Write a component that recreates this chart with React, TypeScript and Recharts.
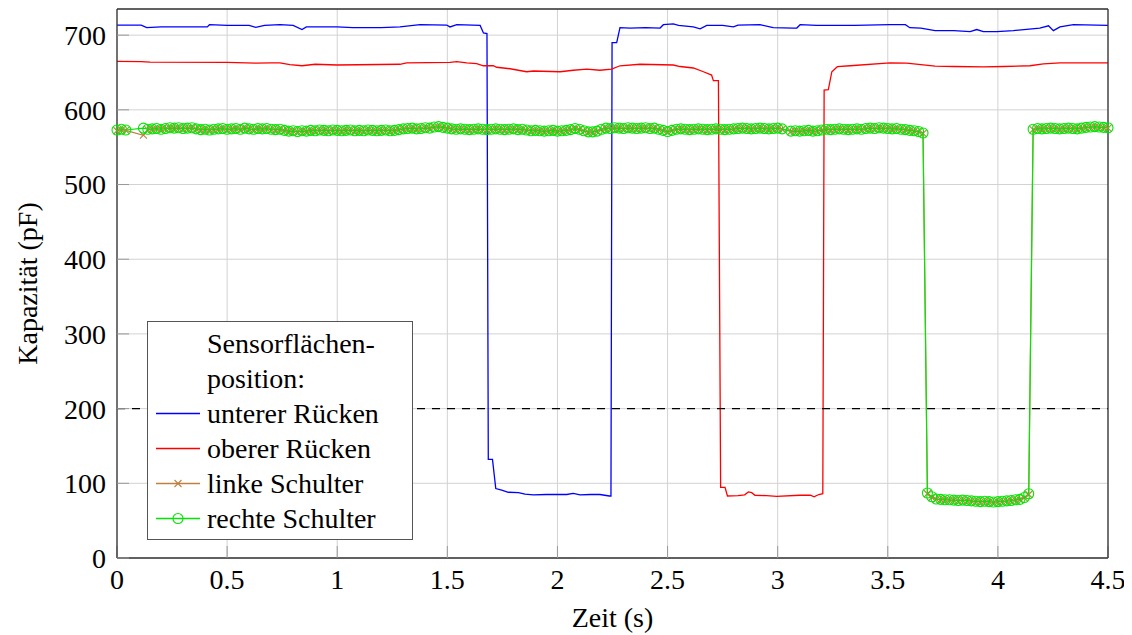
import { LineChart, Line, XAxis, YAxis, CartesianGrid, ReferenceLine, Legend } from 'recharts';

const FONT = '"Liberation Serif", "DejaVu Serif", serif';
const FONT_SIZE = 28;
const BLUE = '#0000ff';
const RED = '#ff0000';
const BROWN = '#bf8040';
const GREEN = '#00e600';

const xTicks = [0, 0.5, 1, 1.5, 2, 2.5, 3, 3.5, 4, 4.5];
const yTicks = [0, 100, 200, 300, 400, 500, 600, 700];
const threshold = 200;

// unterer Rücken
const lowerBackTime = [
  0, 0.11, 0.135, 0.2, 0.3, 0.41, 0.42, 0.5, 0.6, 0.63, 0.67, 0.74, 0.8, 0.84, 0.86, 1.0, 1.07, 1.2, 1.285, 1.376,
  1.497, 1.512, 1.543, 1.649, 1.664, 1.68, 1.686, 1.705, 1.72, 1.747, 1.777, 1.823, 1.853, 1.891, 1.95, 2.0, 2.042,
  2.072, 2.103, 2.15, 2.193, 2.236, 2.243, 2.248, 2.269, 2.284, 2.33, 2.4, 2.466, 2.481, 2.526, 2.55, 2.617, 2.648,
  2.678, 2.75, 2.799, 2.82, 2.92, 2.98, 3.07, 3.087, 3.102, 3.177, 3.35, 3.51, 3.58, 3.6, 3.65, 3.715, 3.8, 3.874,
  3.904, 3.934, 3.995, 4.07, 4.19, 4.23, 4.252, 4.282, 4.343, 4.5,
];
const lowerBackValue = [
  713.5, 713.5, 710, 711, 711, 711, 714, 713, 713, 710.5, 713, 714, 713, 707.5, 711, 711, 710, 710, 711, 714,
  713.5, 711, 714, 713, 703, 702, 132, 132, 93, 91, 88, 87.5, 85.5, 84.5, 85, 85, 85,
  86.5, 84.5, 85, 85, 83, 83, 690, 690, 710, 709.5, 710, 709.5, 714, 715, 713, 711, 708.5,
  713, 713, 711, 713.5, 714, 710, 709.5, 709.5, 714, 713, 713, 714, 714, 710, 709.5, 706, 706, 704.7,
  707.5, 704.7, 704.7, 706, 709.5, 712.5, 706, 711, 714, 713,
];

// oberer Rücken
const upperBackTime = [
  0, 0.11, 0.15, 0.5, 0.63, 0.7, 0.74, 0.785, 0.84, 0.9, 1.0, 1.285, 1.315, 1.512, 1.543, 1.588, 1.633, 1.664,
  1.709, 1.724, 1.785, 1.86, 1.891, 2.012, 2.072, 2.133, 2.193, 2.246, 2.284, 2.375, 2.526, 2.557, 2.617, 2.663,
  2.7, 2.708, 2.731, 2.741, 2.761, 2.772, 2.82, 2.85, 2.867, 2.882, 2.897, 2.95, 2.996, 3.1, 3.149, 3.165, 3.187,
  3.205, 3.211, 3.23, 3.246, 3.271, 3.329, 3.51, 3.586, 3.715, 3.8, 3.934, 4.025, 4.146, 4.207, 4.282, 4.5,
];
const upperBackValue = [
  665, 664.5, 664, 663.5, 662.5, 663, 663, 660.5, 659, 661, 660, 661, 663, 663.5, 664.5, 663, 662, 659,
  659, 657, 655, 651, 652, 651, 653, 654.5, 653, 654.5, 659, 661, 660, 658, 656, 651,
  646.5, 639, 639, 94.6, 94.6, 83, 83.5, 84.5, 88.4, 87.5, 84, 83.5, 82.6, 84, 84, 82, 85,
  86, 626.5, 627, 651, 657.8, 659, 663, 662.5, 658.5, 658, 657.5, 658, 659, 661.5, 663, 663,
];

// shared sample times of both shoulder sensors
const shoulderTime = [
  0, 0.02, 0.04,
  0.12, 0.14, 0.16, 0.18, 0.2, 0.22, 0.24, 0.26, 0.28, 0.3,
  0.32, 0.34, 0.36, 0.38, 0.4, 0.42, 0.44, 0.46, 0.48, 0.5,
  0.52, 0.54, 0.56, 0.58, 0.6, 0.62, 0.64, 0.66, 0.68, 0.7,
  0.72, 0.74, 0.76, 0.78, 0.8, 0.82, 0.84, 0.86, 0.88, 0.9,
  0.92, 0.94, 0.96, 0.98, 1.0, 1.02, 1.04, 1.06, 1.08, 1.1,
  1.12, 1.14, 1.16, 1.18, 1.2, 1.22, 1.24, 1.26, 1.28, 1.3,
  1.32, 1.34, 1.36, 1.38, 1.4, 1.42, 1.44, 1.46, 1.48, 1.5,
  1.52, 1.54, 1.56, 1.58, 1.6, 1.62, 1.64, 1.66, 1.68, 1.7,
  1.72, 1.74, 1.76, 1.78, 1.8, 1.82, 1.84, 1.86, 1.88, 1.9,
  1.92, 1.94, 1.96, 1.98, 2.0, 2.02, 2.04, 2.06, 2.08, 2.1,
  2.12, 2.14, 2.16, 2.18, 2.2, 2.22, 2.24, 2.26, 2.28, 2.3,
  2.32, 2.34, 2.36, 2.38, 2.4, 2.42, 2.44, 2.46, 2.48, 2.5,
  2.52, 2.54, 2.56, 2.58, 2.6, 2.62, 2.64, 2.66, 2.68, 2.7,
  2.72, 2.74, 2.76, 2.78, 2.8, 2.82, 2.84, 2.86, 2.88, 2.9,
  2.92, 2.94, 2.96, 2.98, 3.0, 3.02, 3.06, 3.08, 3.1,
  3.12, 3.14, 3.16, 3.18, 3.2, 3.22, 3.24, 3.26, 3.28, 3.3,
  3.32, 3.34, 3.36, 3.38, 3.4, 3.42, 3.44, 3.46, 3.48, 3.5,
  3.52, 3.54, 3.56, 3.58, 3.6, 3.62, 3.64, 3.66,
  3.68, 3.7, 3.72, 3.74, 3.76, 3.78, 3.8, 3.82, 3.84, 3.86, 3.88, 3.9,
  3.92, 3.94, 3.96, 3.98, 4.0, 4.02, 4.04, 4.06, 4.08, 4.1, 4.12, 4.14,
  4.16, 4.18, 4.2, 4.22, 4.24, 4.26, 4.28, 4.3, 4.32, 4.34, 4.36, 4.38,
  4.4, 4.42, 4.44, 4.46, 4.48, 4.5,
];

// linke Schulter
const leftShoulderValue = [
  572, 573, 572.5,
  566, 573.5, 574, 574.5, 574, 574.5, 575.5, 575, 575.5, 574.5,
  575, 575.5, 574, 573, 573.5, 573, 573.5, 574, 574.5, 573.5,
  574, 574.5, 573.5, 575, 574, 573.5, 574.5, 574, 574.5, 573.5,
  573, 573.5, 572, 571, 571.5, 570.5, 571.5, 571, 572, 571.5,
  572.5, 572, 571.5, 572.5, 572, 571.5, 572, 572.5, 571.5, 572,
  571.5, 572.5, 572, 571.5, 572, 572.5, 571.5, 572, 573, 574,
  574.5, 575, 574, 574.5, 575.5, 575, 576.5, 577, 576, 575,
  574, 573.5, 574, 573.5, 573, 573.5, 574, 573.5, 573, 573.5,
  574, 573.5, 573, 573.5, 574, 573, 573.5, 572.5, 571.5, 572,
  571.5, 571, 571.5, 572, 571, 571.5, 572, 573, 574.5, 573.5,
  571.5, 570, 570, 571, 573.5, 575, 574.5, 575.5, 575, 574.5,
  575.5, 575, 574.5, 575, 575.5, 574.5, 575, 573.5, 572, 570.5,
  572, 573.5, 574, 573.5, 573, 573.5, 574, 573.5, 573, 573.5,
  574, 573.5, 573, 573.5, 574, 574.5, 575, 574.5, 574, 574.5,
  575, 574.5, 574, 574.5, 575, 574, 571, 571.5, 571,
  571.5, 572, 571, 571.5, 572.5, 573.5, 573, 573.5, 574, 573.5,
  573, 573.5, 574, 573.5, 574.5, 575, 574.5, 575.5, 575, 574.5,
  574, 574.5, 573.5, 573, 572, 571.5, 570.5, 568.5,
  86, 81, 78.5, 78, 77.5, 77.5, 77, 76.5, 77, 76.5, 76, 75.5,
  75, 75.5, 75, 74.5, 75, 75.5, 76, 76.5, 77.5, 78, 80.5, 85,
  573.5, 574.5, 574, 574.5, 575, 574.5, 574, 574.5, 575, 574.5, 574, 575,
  576, 576.5, 577, 576.5, 576, 575.5,
];

// rechte Schulter
const rightShoulderValue = [
  573, 574, 573,
  575.5, 574, 574.5, 575, 574, 575, 576, 575.5, 576, 575,
  575.5, 576, 574.5, 573.5, 574, 573, 574, 574.5, 575, 574,
  574.5, 575, 574, 575.5, 574.5, 574, 575, 574.5, 575, 574,
  573.5, 574, 572.5, 571.5, 572, 571, 572, 571.5, 572.5, 572,
  573, 572.5, 572, 573, 572.5, 572, 572.5, 573, 572, 572.5,
  572, 573, 572.5, 572, 572.5, 573, 572, 572.5, 573.5, 574.5,
  575, 575.5, 574.5, 575, 576, 575.5, 577, 577.5, 576.5, 575.5,
  574.5, 574, 574.5, 574, 573.5, 574, 574.5, 574, 573.5, 574,
  574.5, 574, 573.5, 574, 574.5, 573.5, 574, 573, 572, 572.5,
  572, 571.5, 572, 572.5, 571.5, 572, 572.5, 573.5, 575, 574,
  572, 570.5, 570.5, 571.5, 574, 575.5, 575, 576, 575.5, 575,
  576, 575.5, 575, 575.5, 576, 575, 575.5, 574, 572.5, 571,
  572.5, 574, 574.5, 574, 573.5, 574, 574.5, 574, 573.5, 574,
  574.5, 574, 573.5, 574, 574.5, 575, 575.5, 575, 574.5, 575,
  575.5, 575, 574.5, 575, 575.5, 574.5, 571.5, 572, 571.5,
  572, 572.5, 571.5, 572, 573, 574, 573.5, 574, 574.5, 574,
  573.5, 574, 574.5, 574, 575, 575.5, 575, 576, 575.5, 575,
  574.5, 575, 574, 573.5, 572.5, 572, 571, 569,
  87, 82, 79, 78.5, 78, 78, 77.5, 77, 77.5, 77, 76.5, 76,
  75.5, 76, 75.5, 75, 75.5, 76, 76.5, 77, 78, 78.5, 81, 86,
  574, 575, 574.5, 575, 575.5, 575, 574.5, 575, 575.5, 575, 574.5, 575.5,
  576.5, 577, 577.5, 577, 576.5, 576,
];

const zip = (t: number[], v: number[]) => t.map((x, i) => ({ t: x, v: v[i] }));

const lowerBack = zip(lowerBackTime, lowerBackValue);
const upperBack = zip(upperBackTime, upperBackValue);
const leftShoulder = zip(shoulderTime, leftShoulderValue);
const rightShoulder = zip(shoulderTime, rightShoulderValue);

const SERIES = [
  { key: 'lower', name: 'unterer Rücken', color: BLUE, mark: 'none' },
  { key: 'upper', name: 'oberer Rücken', color: RED, mark: 'none' },
  { key: 'left', name: 'linke Schulter', color: BROWN, mark: 'x' },
  { key: 'right', name: 'rechte Schulter', color: GREEN, mark: 'o' },
];

const XMark = ({ cx, cy }: any) => {
  const s = 3.5;
  return (
    <path
      d={`M${cx - s},${cy - s}L${cx + s},${cy + s}M${cx - s},${cy + s}L${cx + s},${cy - s}`}
      stroke={BROWN}
      strokeWidth={1.1}
      fill="none"
    />
  );
};

const YTitle = ({ viewBox }: any) => {
  const x = viewBox.x + 29;
  const y = viewBox.y + viewBox.height / 2;
  return (
    <text x={x} y={y} transform={`rotate(-90 ${x} ${y})`} textAnchor="middle" fontFamily={FONT} fontSize={FONT_SIZE} fill="#000">
      Kapazität (pF)
    </text>
  );
};

const XTitle = ({ viewBox }: any) => (
  <text x={viewBox.x + viewBox.width / 2} y={viewBox.y + 69} textAnchor="middle" fontFamily={FONT} fontSize={FONT_SIZE} fill="#000">
    Zeit (s)
  </text>
);

const renderLegend = () => (
  <div
    style={{
      boxSizing: 'border-box',
      width: 266,
      height: 219,
      paddingTop: 4,
      background: '#fff',
      border: '1px solid #555',
      fontFamily: FONT,
      fontSize: FONT_SIZE,
      lineHeight: '35px',
      color: '#000',
    }}
  >
    <div style={{ paddingLeft: 59 }}>Sensorflächen-</div>
    <div style={{ paddingLeft: 59 }}>position:</div>
    {SERIES.map((s) => (
      <div key={s.key} style={{ display: 'flex', alignItems: 'center', height: 35 }}>
        <svg width={59} height={35} style={{ flex: 'none' }}>
          <line x1={8} x2={52} y1={17.5} y2={17.5} stroke={s.color} strokeWidth={1.3} />
          {s.mark === 'x' && <XMark cx={30} cy={17.5} />}
          {s.mark === 'o' && <circle cx={30} cy={17.5} r={5} fill="none" stroke={s.color} strokeWidth={1.1} />}
        </svg>
        <span style={{ whiteSpace: 'nowrap' }}>{s.name}</span>
      </div>
    ))}
  </div>
);

const tickStyle = { fontFamily: FONT, fontSize: FONT_SIZE, fill: '#000' };

export default function App() {
  return (
    <div style={{ width: 1124, height: 627, position: 'relative', fontFamily: FONT }}>
      <LineChart width={1124} height={627} margin={{ top: 0, right: 23, bottom: 0, left: 0 }}>
        <CartesianGrid xAxisId="main" yAxisId="main" stroke="#d2d2d2" strokeWidth={1} />
        <XAxis
          xAxisId="main"
          dataKey="t"
          type="number"
          domain={[0, 4.5]}
          ticks={xTicks}
          height={77}
          tickSize={-12}
          tickMargin={23}
          tick={tickStyle}
          tickLine={{ stroke: '#999' }}
          axisLine={{ stroke: '#333', strokeWidth: 1.3 }}
          label={<XTitle />}
        />
        <XAxis
          xAxisId="top"
          orientation="top"
          type="number"
          domain={[0, 4.5]}
          ticks={xTicks}
          height={1}
          tickSize={-12}
          tickFormatter={() => ''}
          tickLine={{ stroke: '#999' }}
          axisLine={{ stroke: '#333', strokeWidth: 1.3 }}
        />
        <YAxis
          yAxisId="main"
          type="number"
          domain={[0, 735]}
          ticks={yTicks}
          width={109}
          tickSize={-12}
          tickMargin={23}
          tick={tickStyle}
          tickLine={{ stroke: '#999' }}
          axisLine={{ stroke: '#333', strokeWidth: 1.3 }}
          label={<YTitle />}
        />
        <YAxis
          yAxisId="right"
          orientation="right"
          type="number"
          domain={[0, 735]}
          ticks={yTicks}
          width={1}
          tickSize={-12}
          tickFormatter={() => ''}
          tickLine={{ stroke: '#999' }}
          axisLine={{ stroke: '#333', strokeWidth: 1.3 }}
        />
        <Line
          xAxisId="main"
          yAxisId="main"
          data={lowerBack}
          dataKey="v"
          name="unterer Rücken"
          stroke={BLUE}
          strokeWidth={1.3}
          dot={false}
          activeDot={false}
          isAnimationActive={false}
        />
        <Line
          xAxisId="main"
          yAxisId="main"
          data={upperBack}
          dataKey="v"
          name="oberer Rücken"
          stroke={RED}
          strokeWidth={1.3}
          dot={false}
          activeDot={false}
          isAnimationActive={false}
        />
        <Line
          xAxisId="main"
          yAxisId="main"
          data={leftShoulder}
          dataKey="v"
          name="linke Schulter"
          stroke={BROWN}
          strokeWidth={1.2}
          dot={(p: any) => <XMark key={`lx-${p.index}`} cx={p.cx} cy={p.cy} />}
          activeDot={false}
          isAnimationActive={false}
        />
        <Line
          xAxisId="main"
          yAxisId="main"
          data={rightShoulder}
          dataKey="v"
          name="rechte Schulter"
          stroke={GREEN}
          strokeWidth={1.2}
          dot={{ r: 5, fill: 'none', stroke: GREEN, strokeWidth: 1.1 }}
          activeDot={false}
          isAnimationActive={false}
        />
        <ReferenceLine
          xAxisId="main"
          yAxisId="main"
          y={threshold}
          stroke="#000"
          strokeWidth={1.2}
          strokeDasharray="8 7"
        />
        <Legend
          layout="vertical"
          align="center"
          verticalAlign="middle"
          content={renderLegend}
          wrapperStyle={{ left: 139, top: 313, width: 266, height: 219 }}
        />
      </LineChart>
    </div>
  );
}
